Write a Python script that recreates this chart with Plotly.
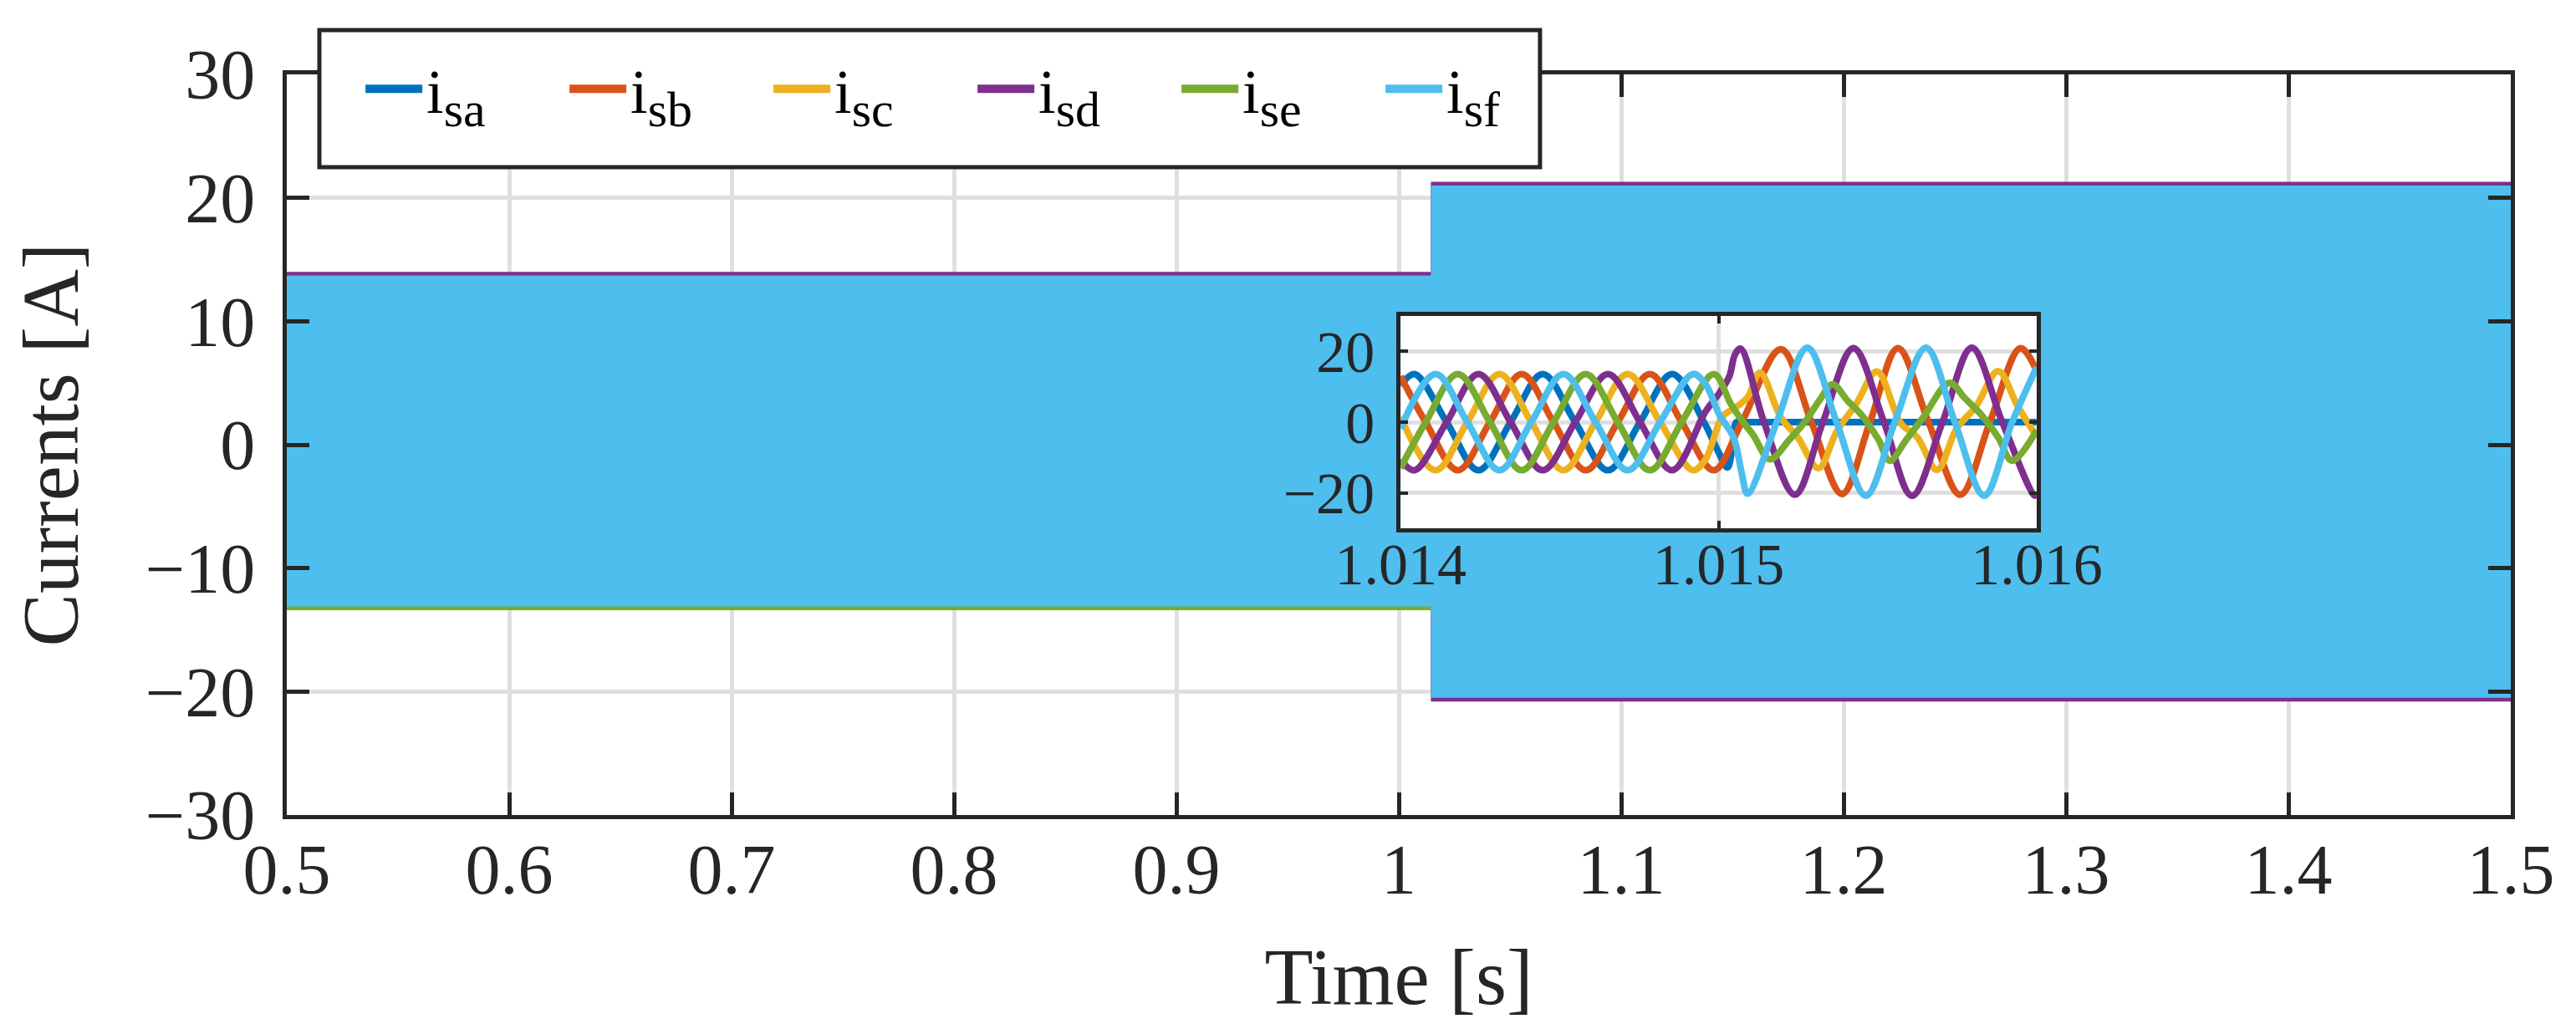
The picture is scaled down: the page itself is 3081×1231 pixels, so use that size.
import plotly.graph_objects as go

# ---------------- data ----------------
names = ["i<sub>sa</sub>", "i<sub>sb</sub>", "i<sub>sc</sub>", "i<sub>sd</sub>", "i<sub>se</sub>", "i<sub>sf</sub>"]
colors = ["#0072BD", "#D95319", "#EDB120", "#7E2F8E", "#77AC30", "#4DBEEE"]

# main view: envelope of each phase current (start, fault, end)
t_start = 0.5
t_fault = 1.015
t_end = 1.5
env_pre_top = [13.5, 13.6, 13.5, 13.9, 13.6, 13.6]
env_pre_bot = [-13.1, -13.1, -13.1, -13.1, -13.3, -13.0]
env_post_top = [0.3, 20.9, 14.5, 21.2, 11.4, 20.9]
env_post_bot = [-0.3, -20.4, -13.5, -20.7, -11.0, -20.4]

# inset view (times in ms after 1.014 s)
inset_t0 = 1.014
ta = [0, 0.044, 0.145, 0.245, 0.346, 0.447, 0.549, 0.652, 0.753, 0.854, 0.954, 1.000, 1.028, 1.045, 1.056, 1.080, 1.5, 2.0]
va = [10.3, 13.6, 0, -13.6, 0, 13.6, 0, -13.6, 0, 13.6, 0, -8.5, -12.8, -6.0, 0, 0, 0, 0]
tb = [0, 0.079, 0.180, 0.281, 0.381, 0.481, 0.582, 0.683, 0.784, 0.884, 0.985, 1.073, 1.196, 1.292, 1.388, 1.476, 1.564, 1.660, 1.760, 1.853, 1.949, 2.0]
vb = [13.0, 0, -13.6, 0, 13.6, 0, -13.6, 0, 13.6, 0, -13.6, 0, 20.6, 0, -20.3, 0, 20.9, 0, -20.5, 0, 20.9, 14.5]
tc = [0, 0.110, 0.210, 0.311, 0.411, 0.512, 0.613, 0.714, 0.816, 0.919, 0.959, 1.012, 1.056, 1.091, 1.130, 1.196, 1.249,
      1.314, 1.371, 1.433, 1.498, 1.573, 1.625, 1.687, 1.748, 1.809, 1.879, 1.941, 2.0]
vc = [1.5, -13.6, 0, 13.6, 0, -13.6, 0, 13.6, 0, -13.6, -10.5, 1.5, 4.3, 7.0, 14.0, 1.3, -4.3,
      -13.0, -2.7, 5.2, 14.3, -0.3, -4.3, -13.5, -1.9, 4.4, 14.4, 4.4, -4.0]
td = [0, 0.044, 0.145, 0.245, 0.346, 0.447, 0.549, 0.652, 0.753, 0.854, 0.959, 1.003, 1.034, 1.051, 1.069, 1.143, 1.240,
      1.328, 1.424, 1.520, 1.608, 1.704, 1.796, 1.892, 1.993, 2.0]
vd = [-10.6, -13.6, 0, 13.6, 0, -13.6, 0, 13.6, 0, -13.6, 3.0, 8.3, 13.0, 19.0, 20.8, 0, -20.5,
      0, 20.9, 0, -20.8, 0, 21.0, 0, -20.7, -20.6]
te = [0, 0.079, 0.180, 0.281, 0.381, 0.481, 0.582, 0.683, 0.784, 0.884, 0.985, 1.038, 1.073, 1.108, 1.161, 1.222, 1.275,
      1.319, 1.358, 1.406, 1.450, 1.503, 1.538, 1.590, 1.643, 1.726, 1.774, 1.827, 1.879, 1.923, 2.0]
ve = [-13.0, 0, 13.6, 0, -13.6, 0, 13.6, 0, -13.6, 0, 13.6, 5.2, 0.5, -3.5, -10.5, -5.0, 0.5,
      6.4, 10.7, 6.0, 2.0, -5.0, -10.9, -5.0, 1.3, 11.1, 6.8, 2.0, -4.3, -10.9, -2.3]
tf = [0, 0.110, 0.210, 0.311, 0.411, 0.512, 0.613, 0.714, 0.816, 0.919, 0.959, 1.003, 1.047, 1.073, 1.091, 1.183, 1.279,
      1.371, 1.463, 1.554, 1.652, 1.743, 1.835, 1.923, 2.0]
vf = [-1.8, 13.6, 0, -13.6, 0, 13.6, 0, -13.6, 0, 13.6, 10.7, 2.0, -4.3, -14.5, -20.2, 0, 21.0,
      0, -20.8, 0, 21.0, 0, -20.8, 0, 15.5]
inset_t = [ta, tb, tc, td, te, tf]
inset_v = [va, vb, vc, vd, ve, vf]

main_xticks = [0.5, 0.6, 0.7, 0.8, 0.9, 1.0, 1.1, 1.2, 1.3, 1.4, 1.5]
main_yticks = [-30, -20, -10, 0, 10, 20, 30]
inset_xticks = [1.014, 1.015, 1.016]
inset_xticktext = ["1.014", "1.015", "1.016"]
inset_yticks = [-20, 0, 20]

# ---------------- figure ----------------
FONT = "Liberation Serif"
AX = "#262626"
GRID = "#dfdfdf"

fig = go.Figure()

for k in range(6):
    xs = [t_start, t_fault, t_fault, t_end, t_end, t_fault, t_fault, t_start]
    ys = [env_pre_top[k], env_pre_top[k], env_post_top[k], env_post_top[k],
          env_post_bot[k], env_post_bot[k], env_pre_bot[k], env_pre_bot[k]]
    fig.add_trace(go.Scatter(x=xs, y=ys, mode="lines", fill="toself", fillcolor=colors[k],
                             line=dict(color=colors[k], width=3), showlegend=False,
                             hoverinfo="skip", xaxis="x", yaxis="y"))

for k in range(6):
    fig.add_trace(go.Scatter(x=[inset_t0 + v / 1000.0 for v in inset_t[k]], y=inset_v[k],
                             mode="lines", line=dict(color=colors[k], width=8, shape="spline", smoothing=1.0),
                             showlegend=False, xaxis="x2", yaxis="y2"))

# legend-only entries (no data points)
for k in range(6):
    fig.add_trace(go.Scatter(x=[None], y=[None], mode="lines", line=dict(color=colors[k], width=10),
                             name=names[k].replace("<sub>", "<sub><span style='font-size:60px'>").replace("</sub>", "</span></sub>"),
                             xaxis="x2", yaxis="y2"))

axis_common = dict(showline=True, linecolor=AX, linewidth=5, mirror="ticks", ticks="inside",
                   tickcolor=AX, showgrid=True, gridcolor=GRID, zeroline=False)

fig.update_layout(
    width=3081, height=1231,
    margin=dict(l=343, r=78, t=89, b=256, autoexpand=False),
    paper_bgcolor="white", plot_bgcolor="white",
    font=dict(family=FONT, color=AX),
    xaxis=dict(range=[0.5, 1.5], tickvals=main_xticks, ticklen=27, tickwidth=5, gridwidth=5,
               tickfont=dict(size=84, family=FONT, color=AX), ticklabelstandoff=-12,
               title=dict(text="Time [s]", font=dict(size=95, family=FONT, color=AX), standoff=50),
               domain=[0, 1], anchor="y", **axis_common),
    yaxis=dict(range=[-30, 30], tickvals=main_yticks, ticklen=27, tickwidth=5, gridwidth=5,
               tickfont=dict(size=84, family=FONT, color=AX), ticklabelstandoff=16,
               title=dict(text="Currents [A]", font=dict(size=95, family=FONT, color=AX), standoff=50),
               domain=[0, 1], anchor="x", **axis_common),
    xaxis2=dict(range=[1.014, 1.016], tickvals=inset_xticks, ticktext=inset_xticktext, ticklen=9, tickwidth=4,
                gridwidth=5, tickfont=dict(size=70, family=FONT, color=AX), ticklabelstandoff=-22,
                domain=[0.5008, 0.7868], anchor="y2", **axis_common),
    yaxis2=dict(range=[-30, 30], tickvals=inset_yticks, ticklen=9, tickwidth=4,
                gridwidth=5, tickfont=dict(size=70, family=FONT, color=AX), ticklabelstandoff=12,
                domain=[0.3871, 0.6738], anchor="x2", **axis_common),
    legend=dict(orientation="h", x=0.0335, y=0.9800, xanchor="left", yanchor="middle",
                bgcolor="rgba(0,0,0,0)", borderwidth=0,
                font=dict(size=74, family=FONT, color="#000000"),
                itemwidth=68, entrywidth=161, entrywidthmode="pixels", tracegroupgap=0),
)

# inset background
fig.add_shape(type="rect", xref="x2 domain", yref="y2 domain", x0=0, x1=1, y0=0, y1=1,
              fillcolor="white", line=dict(width=0), layer="below")
# legend frame
fig.add_shape(type="rect", xref="paper", yref="paper", x0=0.01466, x1=0.5635, y0=0.8747, y1=1.0598,
              fillcolor="white", line=dict(color=AX, width=5), layer="above")

fig.write_html("out.html", config={"displayModeBar": False},
               post_script="document.body.style.margin='0';")
